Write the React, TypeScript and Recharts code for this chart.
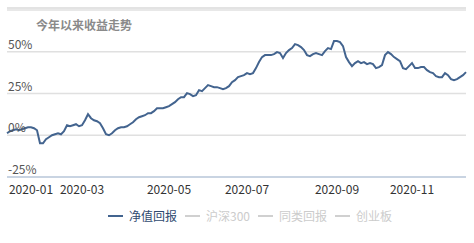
import { LineChart, Line, XAxis, YAxis, CartesianGrid, Legend } from 'recharts';

const FONT = '"Noto Sans CJK SC", "Noto Sans", sans-serif';

// 今年以来净值回报 (%), sampled along the curve
const returns = [
  1.2, 2.4, 3.0, 3.6, 3.0, 3.6, 4.2, 4.8, 4.8, 4.2, 3.0, -4.8, -4.8, -2.4, -1.2, 0, 0.6, 1.2, 0.6, 2.4,
  6.0, 5.4, 6.0, 6.6, 5.4, 6.0, 9.0, 12.6, 10.2, 9.0, 8.4, 7.2, 4.2, 0.6, 0, 1.2, 3.0, 4.2, 4.8, 4.8,
  5.4, 6.6, 7.8, 9.6, 10.8, 11.4, 12.0, 13.2, 13.2, 14.4, 16.2, 16.2, 16.2, 16.8, 17.4, 18.6, 19.8, 21.6, 22.8, 22.8,
  25.2, 24.6, 23.4, 24.0, 27.0, 26.4, 28.2, 30.0, 29.4, 28.8, 28.8, 28.2, 27.6, 28.2, 29.4, 31.8, 33.0, 34.8, 35.4, 36.0,
  37.2, 36.6, 37.2, 40.2, 43.8, 46.8, 48.0, 48.0, 48.0, 48.6, 49.8, 49.2, 46.2, 49.2, 51.0, 52.2, 54.6, 54.0, 52.8, 51.0,
  48.0, 47.4, 48.6, 49.2, 48.6, 48.0, 50.4, 52.2, 51.6, 56.4, 56.4, 55.8, 53.4, 46.8, 43.8, 41.4, 43.2, 44.4, 43.2, 43.8,
  42.6, 43.2, 42.6, 40.2, 40.8, 42.0, 48.0, 49.8, 48.6, 46.8, 45.6, 44.4, 40.2, 39.6, 41.4, 43.2, 40.2, 40.2, 40.8, 40.8,
  39.0, 37.8, 37.2, 35.4, 34.8, 34.8, 37.2, 36.0, 33.6, 33.0, 33.6, 34.8, 36.0, 37.8,
];

const tickIndexes = [8, 25, 54, 80, 110, 135];
const tickLabels = ['2020-01', '2020-03', '2020-05', '2020-07', '2020-09', '2020-11'];

const yTicks = [-25, 0, 25, 50];

const legendNames = ['净值回报', '沪深300', '同类回报', '创业板'];
const legendColors = ['#43648f', '#d0d0d0', '#d0d0d0', '#d0d0d0'];
const legendTextColors = ['#2f4a70', '#cccccc', '#cccccc', '#cccccc'];

const data = returns.map((v, i) => ({ i, v }));

const YTick = (props: any) => {
  const { y, payload } = props;
  return (
    <text x={8} y={y - 3} fill="#555" fontSize={12} fontFamily={FONT} textAnchor="start">
      {payload.value}%
    </text>
  );
};

const XTick = (props: any) => {
  const { x, y, payload } = props;
  const k = tickIndexes.indexOf(payload.value);
  return (
    <text x={x} y={y + 9} fill="#333" fontSize={12} fontFamily={FONT} textAnchor="middle">
      {tickLabels[k]}
    </text>
  );
};

const LegendContent = () => (
  <div style={{ display: 'flex', alignItems: 'center', fontFamily: FONT, fontSize: 12, paddingLeft: 102 }}>
    {legendNames.map((name, k) => (
      <div key={name} style={{ display: 'flex', alignItems: 'center', marginRight: 8 }}>
        <span style={{ display: 'inline-block', width: 15, height: 2, background: legendColors[k], marginRight: 6 }} />
        <span style={{ color: legendTextColors[k] }}>{name}</span>
      </div>
    ))}
  </div>
);

export default function App() {
  return (
    <div style={{ position: 'absolute', left: 0, top: 0, width: 474, height: 243, background: '#fff' }}>
      <div style={{ position: 'absolute', left: 7, top: 7, width: 459, height: 2, background: '#e3e3e3' }} />
      <div
        style={{
          position: 'absolute', left: 36, top: 16, fontFamily: FONT, fontSize: 12,
          fontWeight: 'bold', color: '#8a8a8a', zIndex: 2,
        }}
      >
        今年以来收益走势
      </div>
      <LineChart width={474} height={243} data={data} margin={{ top: 10, right: 8, left: 6, bottom: 22 }}>
        <CartesianGrid vertical={false} stroke="#e0e0e0" strokeWidth={1.5} />
        <XAxis
          dataKey="i"
          type="number"
          domain={[0, returns.length - 1]}
          ticks={tickIndexes}
          tick={<XTick />}
          tickLine={false}
          axisLine={{ stroke: '#c9d4e2', strokeWidth: 2 }}
          height={22}
          interval={0}
        />
        <YAxis
          domain={[-25, 75]}
          ticks={yTicks}
          width={1}
          axisLine={false}
          tickLine={false}
          tick={<YTick />}
          interval={0}
        />
        <Legend verticalAlign="bottom" height={22} wrapperStyle={{ bottom: 14 }} content={<LegendContent />} />
        <Line
          type="linear"
          dataKey="v"
          stroke="#43648f"
          strokeWidth={2}
          dot={false}
          isAnimationActive={false}
        />
      </LineChart>
    </div>
  );
}
